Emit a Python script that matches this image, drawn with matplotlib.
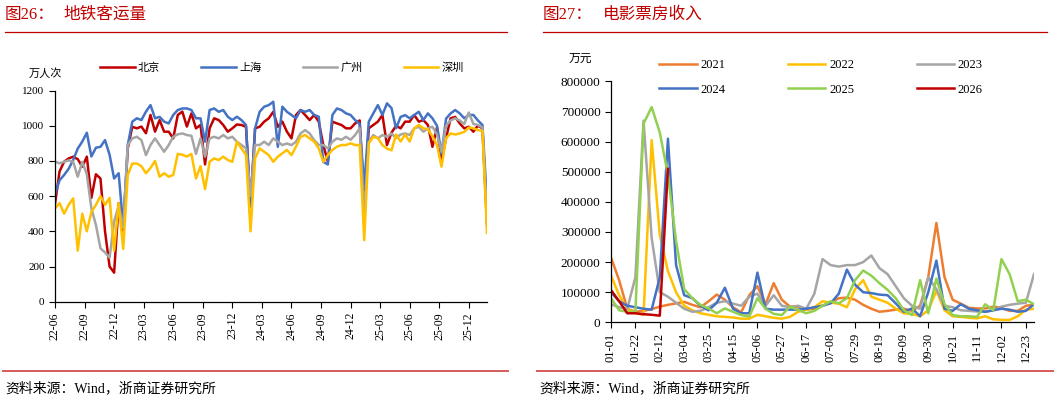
import matplotlib
matplotlib.use("Agg")  # headless
import matplotlib.pyplot as plt
from matplotlib.lines import Line2D
import numpy as np
import pandas as pd

plt.rcParams["font.family"] = ["Liberation Serif", "Noto Sans CJK SC"]

RED = "#C00000"
W, H = 1057, 403

# ---- left: subway ridership, 万人次 (biweekly points) ----
metro_dates = pd.date_range("2022-06-26", periods=96, freq="14D")
beijing = [555, 740, 795, 814, 824, 810, 767, 824, 590, 724,
           700, 400, 200, 165, 560, 405, 870, 994, 985, 995,
           957, 1061, 966, 1032, 966, 966, 928, 1061, 1080, 995,
           1070, 985, 1004, 780, 985, 1042, 1032, 1004, 966, 985,
           1007, 1004, 994, 549, 985, 994, 1023, 1042, 1079, 994,
           1023, 966, 928, 1061, 1089, 1061, 1032, 1061, 1023, 890,
           795, 1023, 1013, 1004, 985, 985, 1013, 1030, 560, 985,
           1004, 1023, 1061, 890, 960, 1000, 985, 1023, 1023, 1061,
           1023, 1032, 1004, 880, 990, 800, 930, 1042, 1050, 1013,
           985, 994, 966, 1000, 985, 440]
shanghai = [610, 690, 720, 755, 805, 870, 910, 960, 825, 875,
            880, 918, 835, 700, 730, 430, 890, 1023, 1042, 1032,
            1080, 1117, 1042, 1050, 1023, 1013, 1061, 1089, 1098, 1098,
            1089, 1042, 1042, 909, 1089, 1098, 1079, 1089, 1051, 1032,
            1051, 1032, 1004, 540, 985, 1079, 1108, 1117, 1136, 880,
            1108, 1079, 1061, 1042, 1089, 1079, 1089, 1061, 1051, 795,
            780, 1061, 1098, 1089, 1070, 1061, 1032, 1010, 650, 1023,
            1070, 1117, 1061, 1127, 1100, 985, 1050, 1060, 1042, 1061,
            1079, 1032, 1070, 1042, 1000, 840, 1040, 1070, 1089, 1070,
            1042, 1061, 1061, 1030, 1004, 560]
guangzhou = [796, 786, 795, 803, 795, 710, 795, 724, 530, 436,
             303, 280, 250, 455, 545, 420, 890, 928, 937, 918,
             833, 890, 928, 890, 852, 890, 937, 951, 956, 947,
             943, 840, 928, 824, 928, 937, 928, 947, 928, 937,
             909, 890, 871, 600, 890, 890, 909, 890, 928, 909,
             890, 899, 890, 909, 956, 975, 956, 918, 890, 890,
             871, 909, 928, 920, 937, 920, 947, 985, 500, 909,
             947, 928, 947, 937, 956, 930, 950, 956, 947, 985,
             994, 966, 985, 994, 950, 852, 1000, 1030, 1042, 1030,
             1010, 1075, 1010, 1004, 990, 470]
shenzhen = [530, 560, 500, 550, 587, 290, 500, 400, 510, 550,
            600, 550, 590, 290, 560, 300, 720, 785, 785, 770,
            730, 760, 800, 710, 730, 710, 720, 840, 835, 825,
            840, 700, 770, 640, 795, 814, 805, 824, 805, 795,
            909, 871, 833, 400, 814, 871, 852, 833, 795, 824,
            843, 862, 833, 881, 937, 947, 928, 909, 871, 795,
            833, 862, 881, 890, 890, 900, 890, 890, 350, 900,
            937, 930, 890, 870, 860, 950, 910, 950, 910, 985,
            1004, 985, 980, 940, 890, 767, 930, 956, 950, 956,
            965, 990, 985, 975, 970, 390]
metro_names = ["北京", "上海", "广州", "深圳"]
metro_colors = [RED, "#4472C4", "#A5A5A5", "#FFC000"]

# ---- right: box office, 万元 (weekly points from 01-01) ----
box_2021 = [215, 140, 45, 35, 38, 44, 52, 58, 63, 68,
            58, 50, 70, 92, 75, 50, 33, 90, 120, 60,
            130, 75, 52, 52, 42, 45, 55, 65, 80, 82,
            75, 58, 45, 35, 38, 42, 45, 38, 55, 150,
            330, 150, 75, 62, 48, 46, 46, 52, 48, 38,
            38, 55, 58]
box_2022 = [155, 90, 45, 30, 25, 605, 290, 170, 100, 55,
            40, 30, 25, 20, 18, 16, 12, 12, 25, 20,
            15, 12, 18, 35, 42, 50, 70, 65, 62, 50,
            110, 140, 85, 75, 65, 45, 30, 28, 20, 40,
            105, 40, 20, 18, 15, 13, 20, 10, 8, 8,
            20, 42, 45]
box_2023 = [60, 50, 45, 150, 670, 280, 100, 85, 65, 45,
            35, 38, 50, 65, 70, 62, 55, 85, 95, 55,
            90, 55, 50, 55, 45, 95, 210, 190, 185, 190,
            190, 200, 222, 180, 160, 120, 80, 55, 45, 150,
            110, 55, 50, 40, 38, 36, 35, 40, 52, 58,
            62, 65, 160]
box_2024 = [100, 70, 55, 50, 45, 42, 150, 610, 190, 90,
            80, 55, 40, 65, 115, 45, 30, 30, 165, 45,
            42, 42, 42, 42, 45, 50, 55, 63, 95, 175,
            125, 100, 97, 92, 90, 63, 35, 46, 20, 100,
            205, 45, 38, 60, 45, 40, 35, 40, 45, 42,
            35, 38, 60]
box_2025 = [80, 40, 35, 35, 660, 715, 630, 490, 270, 110,
            80, 58, 46, 30, 46, 35, 24, 19, 80, 45,
            28, 24, 52, 41, 30, 38, 55, 70, 63, 80,
            140, 172, 155, 130, 108, 80, 40, 24, 140, 30,
            145, 60, 24, 20, 20, 18, 60, 40, 210, 160,
            70, 75, 60]
box_2026 = [107, 70, 30, 30, 27, 25, 22, 510]
box_years = ["2021", "2022", "2023", "2024", "2025", "2026"]
box_colors = ["#ED7D31", "#FFC000", "#A5A5A5", "#4472C4", "#92D050", RED]
box_ticks = pd.date_range("2024-01-01", periods=18, freq="21D").strftime("%m-%d")

fig = plt.figure(figsize=(W / 100, H / 100), dpi=100)


def fx(px):
    return px / W


def fy(py):
    return 1 - py / H


def style_axes(ax):
    for s in ("top", "right"):
        ax.spines[s].set_visible(False)
    for s in ("left", "bottom"):
        ax.spines[s].set_linewidth(0.9)
        ax.spines[s].set_color("black")
    ax.tick_params(direction="out", length=4, width=0.8, colors="black")


# left chart
ax1 = fig.add_axes([fx(55), fy(301.7), fx(487 - 55), (301.7 - 90.5) / H])
handles1 = []
for vals, name, c in zip([beijing, shanghai, guangzhou, shenzhen], metro_names, metro_colors):
    ln, = ax1.plot(metro_dates, vals, color=c, lw=1.8, label=name, solid_joinstyle="round")
    handles1.append(ln)
ax1.set_ylim(0, 1200)
ax1.set_yticks(range(0, 1201, 200))
ax1.set_xlim(metro_dates[0], metro_dates[-1])
xt = pd.date_range(metro_dates[0], periods=15, freq="91D")
ax1.set_xticks(xt)
ax1.set_xticklabels(xt.strftime("%y-%m"), rotation=90, fontsize=8.5)
ax1.tick_params(axis="y", labelsize=8)
style_axes(ax1)
ax1.legend(handles=handles1, ncol=4, loc="center", bbox_to_anchor=(fx(282), fy(68)),
           bbox_transform=fig.transFigure, frameon=False, fontsize=8,
           handlelength=3.1, handletextpad=0.3, columnspacing=3.7)
fig.text(fx(45), fy(73), "万人次", fontsize=8, ha="center", va="center")

# right chart
ax2 = fig.add_axes([fx(611), fy(322.3), fx(1034 - 611), (322.3 - 81.5) / H])
lines2 = []
for vals, yr, c in zip([box_2021, box_2022, box_2023, box_2024, box_2025, box_2026],
                       box_years, box_colors):
    days = np.arange(len(vals)) * 7
    ln, = ax2.plot(days, np.array(vals) * 1000, color=c, lw=1.8, label=yr,
                   solid_joinstyle="round")
    lines2.append(ln)
ax2.set_ylim(0, 800000)
ax2.set_yticks(range(0, 800001, 100000))
ax2.set_xlim(0, 364)
ax2.set_xticks(np.arange(len(box_ticks)) * 21)
ax2.set_xticklabels(box_ticks, rotation=90, fontsize=9)
ax2.tick_params(axis="y", labelsize=9.5)
style_axes(ax2)
order = [0, 3, 1, 4, 2, 5]
ax2.legend(handles=[lines2[i] for i in order], ncol=3, loc="center",
           bbox_to_anchor=(fx(821), fy(77.5)), bbox_transform=fig.transFigure,
           frameon=False, fontsize=9, handlelength=3.0, handletextpad=0.3,
           columnspacing=5.0, labelspacing=1.0)
fig.text(fx(580), fy(59), "万元", fontsize=8.5, ha="center", va="center")

# titles, rules and sources
for x0, num, title, x1, xe in [(5, "图26：", "地铁客运量", 63, 507),
                               (543, "图27：", "电影票房收入", 603, 1047)]:
    fig.text(fx(x0), fy(15), num, color=RED, fontsize=12, va="center")
    fig.text(fx(x1), fy(15), title, color=RED, fontsize=12, va="center")
    fig.add_artist(Line2D([fx(x0), fx(xe)], [fy(32), fy(32)], color=RED, lw=0.9))

for xa, xb in [(3, 508), (537, 1053)]:
    fig.add_artist(Line2D([fx(xa), fx(xb)], [fy(371), fy(371)], color="#D65A5A", lw=1.4))
    fig.text(fx(xa + 2), fy(388), "资料来源：Wind，浙商证券研究所", fontsize=10, va="center")

fig.savefig("out.png", dpi=100, facecolor="white")
plt.close(fig)
